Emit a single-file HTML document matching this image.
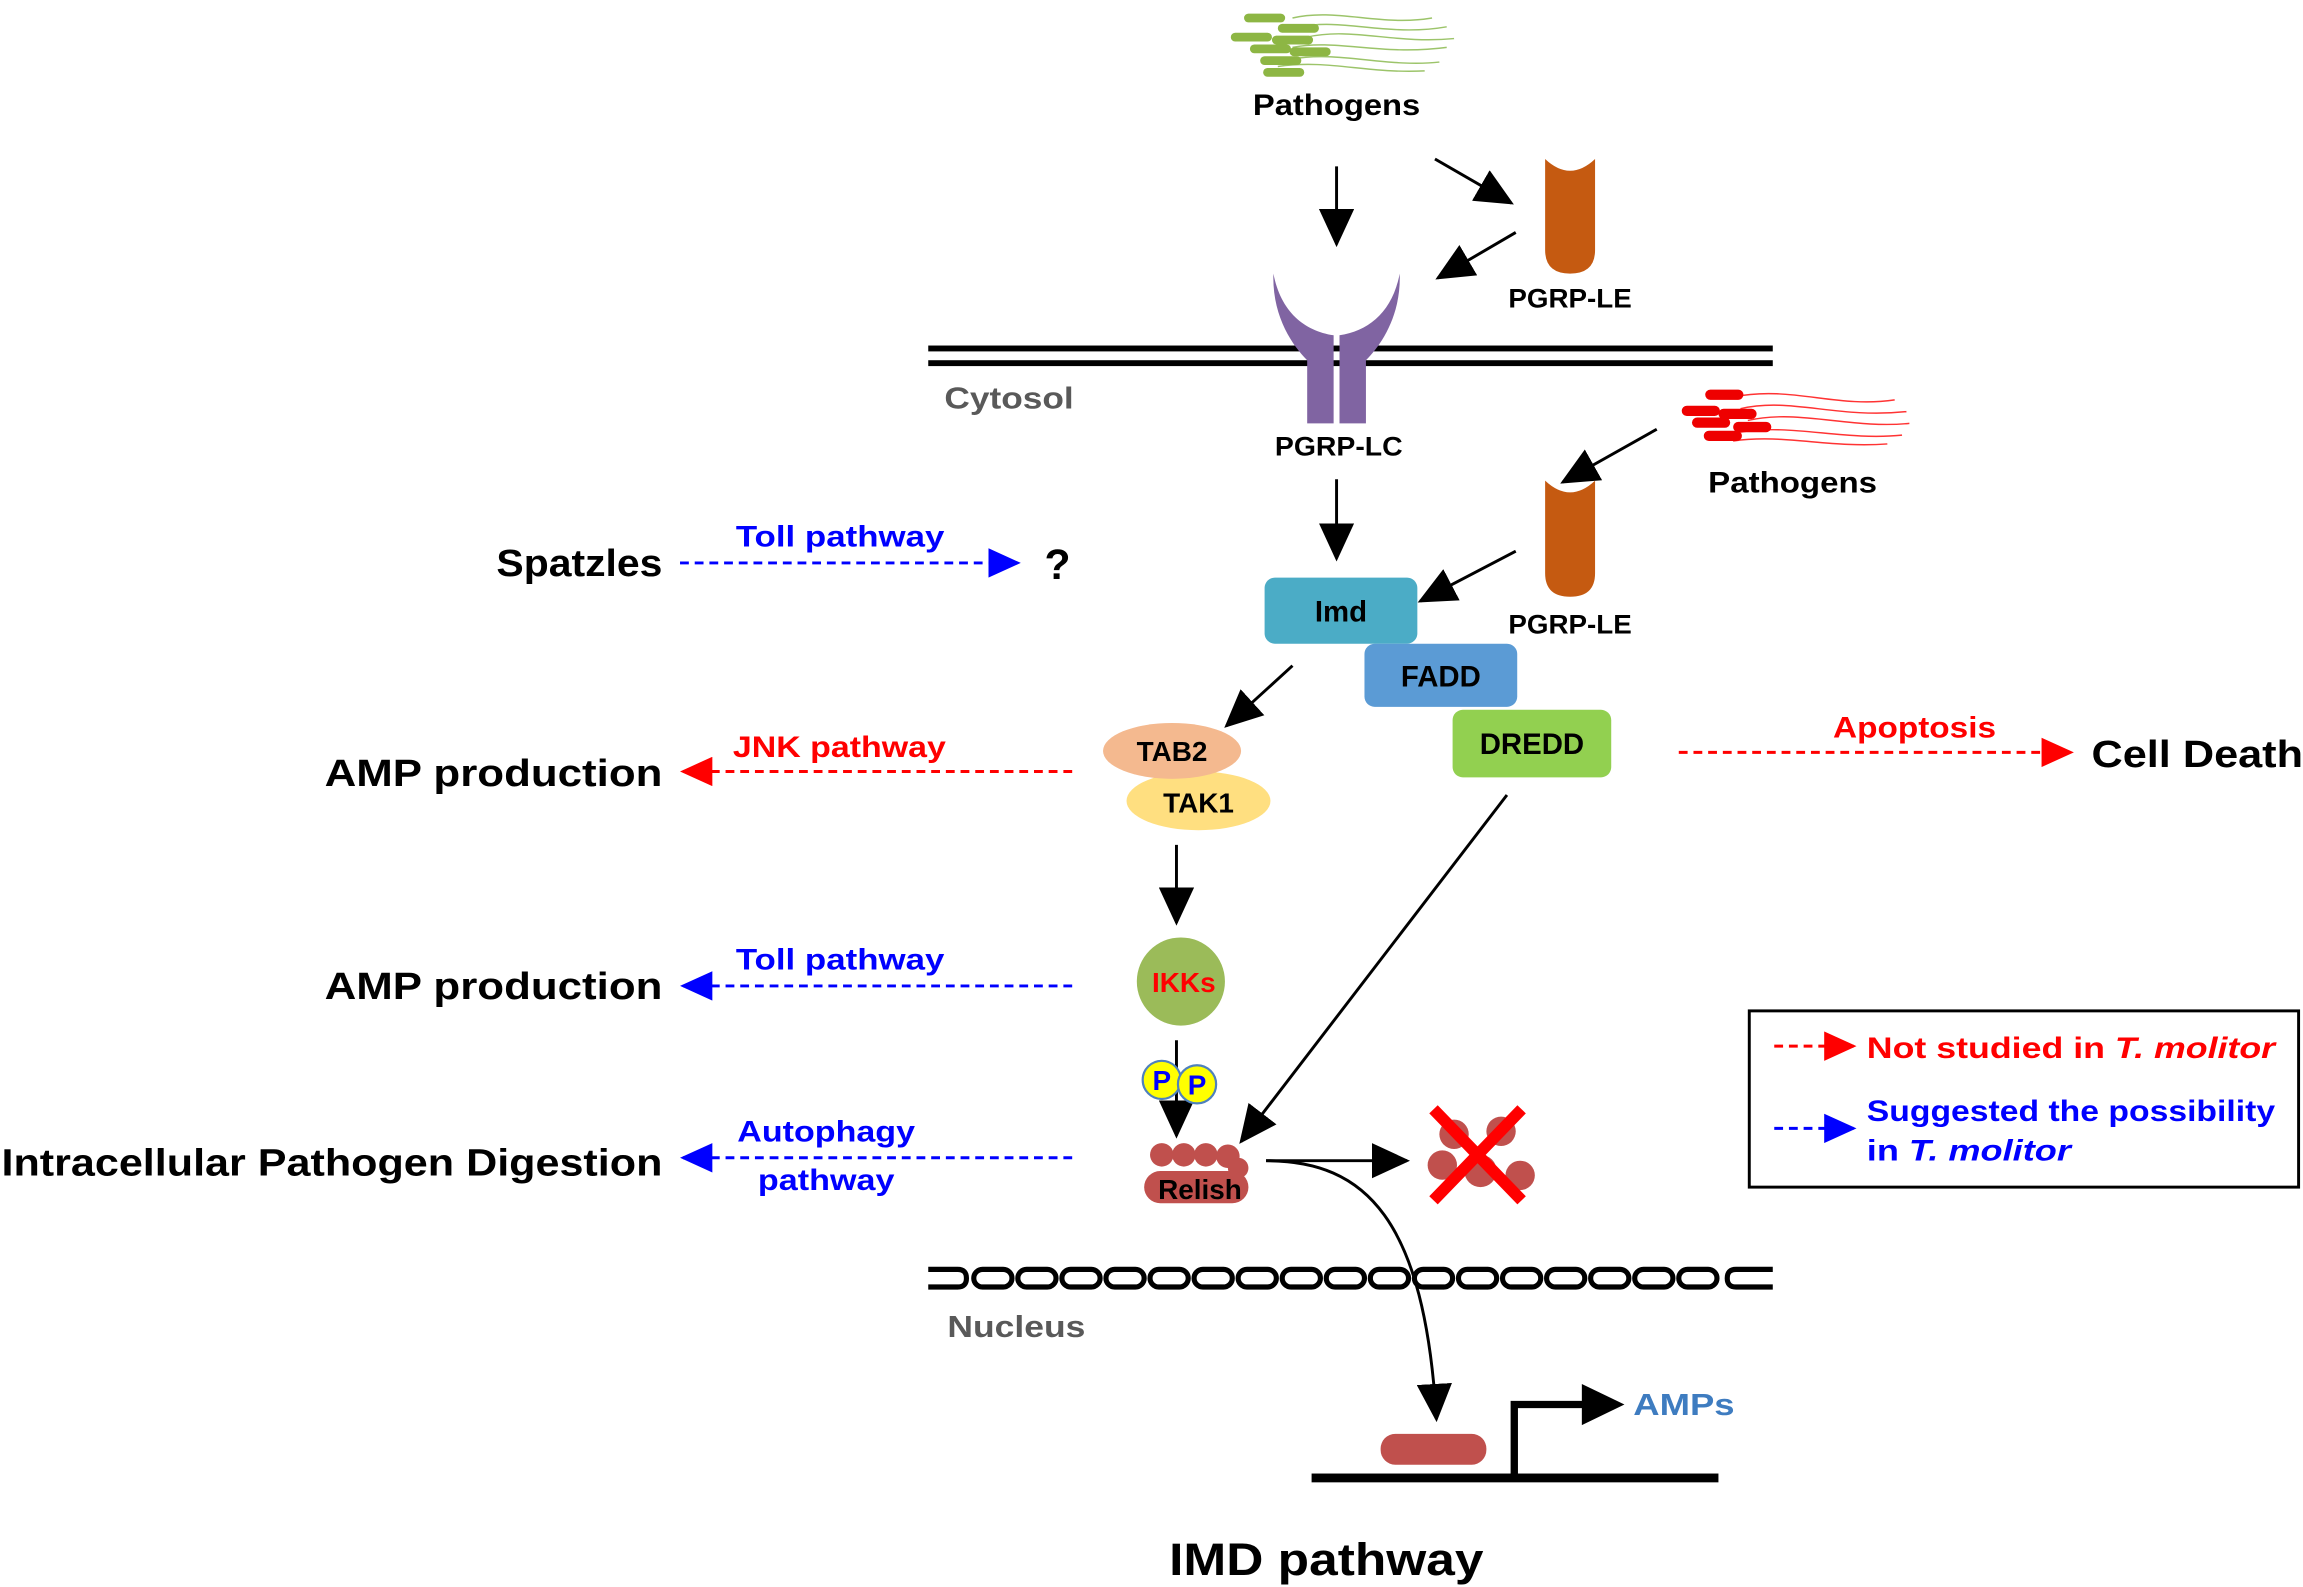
<!DOCTYPE html>
<html><head><meta charset="utf-8"><style>
html,body{margin:0;padding:0;background:#fff;}
svg{display:block;}
text{font-family:"Liberation Sans","DejaVu Sans",sans-serif;font-weight:bold;}
</style></head><body>
<svg width="2303" height="1587" viewBox="0 0 1568 1080" xmlns="http://www.w3.org/2000/svg">
<defs>
<marker id="abk" markerWidth="26" markerHeight="24" refX="24" refY="12" orient="auto" markerUnits="userSpaceOnUse"><path d="M0,0 L26,12 L0,24z" fill="#000"/></marker>
<marker id="ar" markerWidth="22" markerHeight="20" refX="20" refY="10" orient="auto" markerUnits="userSpaceOnUse"><path d="M0,0 L22,10 L0,20z" fill="#f00"/></marker>
<marker id="abl" markerWidth="22" markerHeight="20" refX="20" refY="10" orient="auto" markerUnits="userSpaceOnUse"><path d="M0,0 L22,10 L0,20z" fill="#00f"/></marker>
</defs>

<!-- green pathogens -->
<g stroke="#9CC46A" stroke-width="1" fill="none">
<path d="M880,12 C910,5 940,18 975,12"/><path d="M885,18 C915,12 945,25 985,18"/><path d="M890,25 C920,18 950,30 990,26"/><path d="M880,32 C910,26 940,38 985,32"/><path d="M880,40 C910,34 945,46 980,42"/><path d="M870,45 C905,40 930,50 970,48"/>
</g>
<g fill="#8DB644">
<rect x="847" y="9" width="28" height="6" rx="3"/><rect x="870" y="16" width="28" height="6" rx="3"/><rect x="838" y="22" width="28" height="6" rx="3"/><rect x="866" y="24" width="28" height="6" rx="3"/><rect x="851" y="30" width="28" height="6" rx="3"/><rect x="878" y="32" width="28" height="6" rx="3"/><rect x="858" y="38" width="28" height="6" rx="3"/><rect x="860" y="46" width="28" height="6" rx="3"/>
</g>
<text x="853" y="78" font-size="20" textLength="114" lengthAdjust="spacingAndGlyphs">Pathogens</text>

<g stroke="#000" stroke-width="2" fill="none" marker-end="url(#abk)">
<line x1="910" y1="113" x2="910" y2="166"/>
<line x1="977" y1="108" x2="1029" y2="138"/>
<line x1="1032" y1="158" x2="979" y2="189"/>
<line x1="910" y1="326" x2="910" y2="380"/>
<line x1="1128" y1="292" x2="1064" y2="328"/>
<line x1="1032" y1="375" x2="967" y2="409"/>
<line x1="880" y1="453" x2="835" y2="494"/>
<line x1="801" y1="575" x2="801" y2="628"/>
<line x1="801" y1="708" x2="801" y2="773"/>
<line x1="1026" y1="541" x2="845" y2="777"/>
<line x1="862" y1="790" x2="958" y2="790"/>
<path d="M862,790 C930,790 970,830 978,966"/>
</g>

<path d="M1052,108 Q1069,124 1086,108 L1086,170 Q1086,186 1069,186 Q1052,186 1052,170 Z" fill="#C55A11"/>
<text x="1027" y="209" font-size="18" textLength="84" lengthAdjust="spacingAndGlyphs">PGRP-LE</text>

<rect x="632" y="235" width="575" height="4" fill="#000"/>
<rect x="632" y="245" width="575" height="4" fill="#000"/>

<!-- PGRP-LC -->
<path d="M867,186 C866,215 880,235 890,245 L890,288 L908,288 L908,228 C888,225 872,212 867,186Z" fill="#8064A2"/>
<path d="M953,186 C954,215 940,235 930,245 L930,288 L912,288 L912,228 C932,225 948,212 953,186Z" fill="#8064A2"/>
<text x="643" y="278" font-size="21" fill="#595959" textLength="88" lengthAdjust="spacingAndGlyphs">Cytosol</text>
<text x="868" y="310" font-size="18" textLength="87" lengthAdjust="spacingAndGlyphs">PGRP-LC</text>

<g stroke="#f33" stroke-width="1" fill="none">
<path d="M1180,270 C1220,262 1250,278 1290,272"/><path d="M1185,278 C1220,270 1250,285 1298,280"/><path d="M1190,286 C1225,278 1260,292 1300,288"/><path d="M1185,294 C1220,288 1255,300 1295,296"/><path d="M1180,300 C1215,295 1245,305 1285,302"/>
</g>
<g fill="#E00">
<rect x="1161" y="265" width="26" height="7" rx="3.5"/><rect x="1145" y="276" width="26" height="7" rx="3.5"/><rect x="1170" y="278" width="26" height="7" rx="3.5"/><rect x="1152" y="284" width="26" height="7" rx="3.5"/><rect x="1180" y="287" width="26" height="7" rx="3.5"/><rect x="1160" y="293" width="26" height="7" rx="3.5"/>
</g>
<text x="1163" y="335" font-size="20" textLength="115" lengthAdjust="spacingAndGlyphs">Pathogens</text>

<path d="M1052,327 Q1069,343 1086,327 L1086,390 Q1086,406 1069,406 Q1052,406 1052,390 Z" fill="#C55A11"/>
<text x="1027" y="431" font-size="18" textLength="84" lengthAdjust="spacingAndGlyphs">PGRP-LE</text>

<rect x="861" y="393" width="104" height="45" rx="7" fill="#4BACC6"/>
<text x="913" y="423" font-size="20" text-anchor="middle">Imd</text>
<rect x="929" y="438" width="104" height="43" rx="7" fill="#5B9BD5"/>
<text x="981" y="467" font-size="20" text-anchor="middle">FADD</text>
<rect x="989" y="483" width="108" height="46" rx="7" fill="#92D050"/>
<text x="1043" y="513" font-size="20" text-anchor="middle">DREDD</text>

<ellipse cx="816" cy="545" rx="49" ry="20" fill="#FFDF80"/>
<ellipse cx="798" cy="511" rx="47" ry="19" fill="#F4B98F"/>
<text x="798" y="518" font-size="19" text-anchor="middle">TAB2</text>
<text x="816" y="553" font-size="19" text-anchor="middle">TAK1</text>

<circle cx="804" cy="668" r="30" fill="#9BBB59"/>
<text x="806" y="675" font-size="19" text-anchor="middle" fill="#f00">IKKs</text>

<circle cx="791" cy="735" r="13" fill="#FF0" stroke="#4F81BD" stroke-width="1.5"/>
<circle cx="815" cy="738" r="13" fill="#FF0" stroke="#4F81BD" stroke-width="1.5"/>
<text x="791" y="742" font-size="19" text-anchor="middle" fill="#00f">P</text>
<text x="815" y="745" font-size="19" text-anchor="middle" fill="#00f">P</text>

<g fill="#C0504D">
<circle cx="791" cy="786" r="8"/><circle cx="806" cy="786" r="8"/><circle cx="821" cy="786" r="8"/><circle cx="836" cy="787" r="8"/><circle cx="843" cy="795" r="7"/>
<rect x="779" y="797" width="71" height="22" rx="11"/>
</g>
<text x="817" y="816" font-size="19" text-anchor="middle">Relish</text>

<g fill="#C0504D">
<circle cx="990" cy="772" r="10"/><circle cx="1022" cy="770" r="10"/><circle cx="982" cy="793" r="10"/><circle cx="1008" cy="797" r="11"/><circle cx="1035" cy="800" r="10"/>
</g>
<line x1="976" y1="755" x2="1036" y2="817" stroke="#f00" stroke-width="8"/>
<line x1="1036" y1="755" x2="976" y2="817" stroke="#f00" stroke-width="8"/>

<g fill="#fff" stroke="#000" stroke-width="3.5">
<path d="M632,864 L652,864 Q658,864 658,870 Q658,876 652,876 L632,876"/>
<rect x="663" y="864" width="26" height="12" rx="6"/><rect x="693" y="864" width="26" height="12" rx="6"/><rect x="723" y="864" width="26" height="12" rx="6"/><rect x="753" y="864" width="26" height="12" rx="6"/><rect x="783" y="864" width="26" height="12" rx="6"/><rect x="813" y="864" width="26" height="12" rx="6"/><rect x="843" y="864" width="26" height="12" rx="6"/><rect x="873" y="864" width="26" height="12" rx="6"/><rect x="903" y="864" width="26" height="12" rx="6"/><rect x="933" y="864" width="26" height="12" rx="6"/><rect x="963" y="864" width="26" height="12" rx="6"/><rect x="993" y="864" width="26" height="12" rx="6"/><rect x="1023" y="864" width="26" height="12" rx="6"/><rect x="1053" y="864" width="26" height="12" rx="6"/><rect x="1083" y="864" width="26" height="12" rx="6"/><rect x="1113" y="864" width="26" height="12" rx="6"/><rect x="1143" y="864" width="26" height="12" rx="6"/>
<path d="M1207,864 L1182,864 Q1176,864 1176,870 Q1176,876 1182,876 L1207,876"/>
</g>
<text x="645" y="910" font-size="21" fill="#595959" textLength="94" lengthAdjust="spacingAndGlyphs">Nucleus</text>

<rect x="940" y="976" width="72" height="21" rx="10" fill="#C0504D"/>
<rect x="893" y="1003" width="277" height="6" fill="#000"/>
<path d="M1031,1006 L1031,956 L1085,956" stroke="#000" stroke-width="5" fill="none"/>
<path d="M1077,942 L1106,956 L1077,970Z" fill="#000"/>
<text x="1112" y="963" font-size="21" fill="#3E7CC0" textLength="69" lengthAdjust="spacingAndGlyphs">AMPs</text>

<text x="796" y="1072" font-size="31" textLength="214" lengthAdjust="spacingAndGlyphs">IMD pathway</text>

<g stroke-width="2" fill="none" stroke-dasharray="6,4">
<line x1="463" y1="383" x2="693" y2="383" stroke="#00f" marker-end="url(#abl)"/>
<line x1="730" y1="525" x2="465" y2="525" stroke="#f00" marker-end="url(#ar)"/>
<line x1="730" y1="671" x2="465" y2="671" stroke="#00f" marker-end="url(#abl)"/>
<line x1="730" y1="788" x2="465" y2="788" stroke="#00f" marker-end="url(#abl)"/>
<line x1="1143" y1="512" x2="1410" y2="512" stroke="#f00" marker-end="url(#ar)"/>
<line x1="1208" y1="712" x2="1262" y2="712" stroke="#f00" marker-end="url(#ar)"/>
<line x1="1208" y1="768" x2="1262" y2="768" stroke="#00f" marker-end="url(#abl)"/>
</g>
<text x="338" y="392" font-size="26" textLength="113" lengthAdjust="spacingAndGlyphs">Spatzles</text>
<text x="501" y="372" font-size="20" fill="#00f" textLength="142" lengthAdjust="spacingAndGlyphs">Toll pathway</text>
<text x="720" y="394" font-size="29" text-anchor="middle">?</text>
<text x="221" y="535" font-size="26" textLength="230" lengthAdjust="spacingAndGlyphs">AMP production</text>
<text x="499" y="515" font-size="20" fill="#f00" textLength="145" lengthAdjust="spacingAndGlyphs">JNK pathway</text>
<text x="221" y="680" font-size="26" textLength="230" lengthAdjust="spacingAndGlyphs">AMP production</text>
<text x="501" y="660" font-size="20" fill="#00f" textLength="142" lengthAdjust="spacingAndGlyphs">Toll pathway</text>
<text x="1" y="800" font-size="26" textLength="450" lengthAdjust="spacingAndGlyphs">Intracellular Pathogen Digestion</text>
<text x="502" y="777" font-size="20" fill="#00f" textLength="121" lengthAdjust="spacingAndGlyphs">Autophagy</text>
<text x="516" y="810" font-size="20" fill="#00f" textLength="93" lengthAdjust="spacingAndGlyphs">pathway</text>
<text x="1248" y="502" font-size="20" fill="#f00" textLength="111" lengthAdjust="spacingAndGlyphs">Apoptosis</text>
<text x="1424" y="522" font-size="26" textLength="144" lengthAdjust="spacingAndGlyphs">Cell Death</text>

<rect x="1191" y="688" width="374" height="120" fill="none" stroke="#000" stroke-width="2"/>
<text x="1271" y="720" font-size="20" fill="#f00" textLength="278" lengthAdjust="spacingAndGlyphs">Not studied in <tspan font-style="italic">T. molitor</tspan></text>
<text x="1271" y="763" font-size="20" fill="#00f" textLength="278" lengthAdjust="spacingAndGlyphs">Suggested the possibility</text>
<text x="1271" y="790" font-size="20" fill="#00f" textLength="139" lengthAdjust="spacingAndGlyphs">in <tspan font-style="italic">T. molitor</tspan></text>
</svg>
</body></html>
